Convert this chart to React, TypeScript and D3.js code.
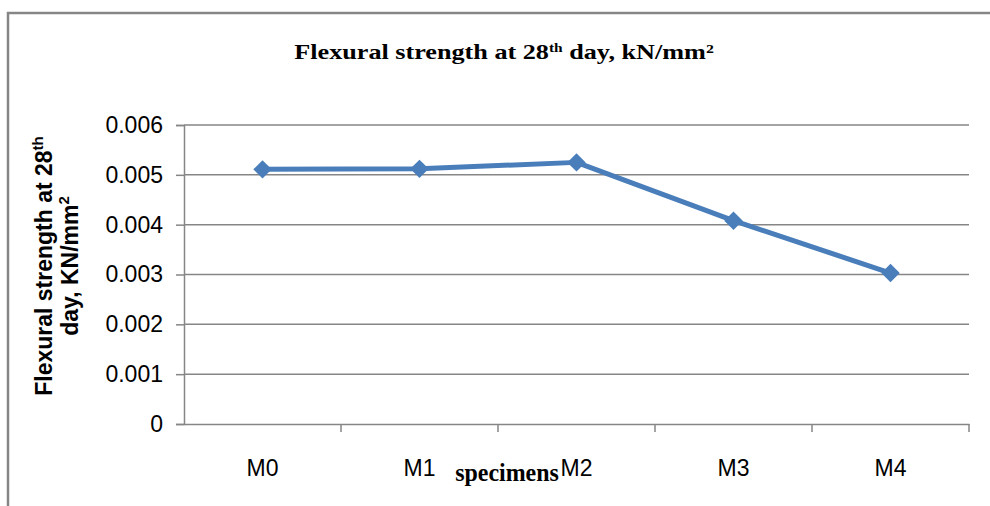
import React, { useEffect, useRef } from 'react';
import * as d3 from 'd3';

const specimens = ['M0', 'M1', 'M2', 'M3', 'M4'];
const strength = [0.00511, 0.00512, 0.00525, 0.00408, 0.00303];
const yTicks = [0, 0.001, 0.002, 0.003, 0.004, 0.005, 0.006];

export default function App() {
  const svgRef = useRef<SVGSVGElement>(null);

  useEffect(() => {
    if (!svgRef.current) return;
    const width = 990;
    const height = 506;
    const margin = { top: 125, right: 21, bottom: 82, left: 184 };

    const svg = d3.select(svgRef.current);
    svg.selectAll('*').remove();
    svg.attr('width', width).attr('height', height);

    // outer frame (only top and left visible)
    svg.append('path')
      .attr('d', `M8,${height} L8,13 L${width},13`)
      .attr('fill', 'none')
      .attr('stroke', '#868686')
      .attr('stroke-width', 2.5);

    const x = d3.scaleBand()
      .domain(specimens)
      .range([margin.left, width - margin.right]);

    const y = d3.scaleLinear()
      .domain([0, 0.006])
      .range([height - margin.bottom, margin.top]);

    const g = svg.append('g');

    // gridlines
    g.selectAll('.grid')
      .data(yTicks.filter(d => d > 0))
      .enter()
      .append('line')
      .attr('x1', margin.left)
      .attr('x2', width - margin.right)
      .attr('y1', d => y(d))
      .attr('y2', d => y(d))
      .attr('stroke', '#868686')
      .attr('stroke-width', 1.5);

    const sans = '"Liberation Sans Narrow", "Liberation Sans", Arial, sans-serif';

    // y axis
    const yAxis = g.append('g')
      .attr('transform', `translate(${margin.left},0)`)
      .call(d3.axisLeft(y).tickValues(yTicks).tickFormat(d => d === 0 ? '0' : d3.format('.3f')(d as number)).tickSize(8).tickPadding(13));
    yAxis.select('.domain').attr('stroke', '#868686').attr('stroke-width', 1.5);
    yAxis.selectAll('.tick line').attr('stroke', '#868686').attr('stroke-width', 1.5);
    yAxis.selectAll('.tick text')
      .attr('fill', '#000')
      .style('font-family', sans)
      .style('font-size', '23px');

    // x axis
    const xAxis = g.append('g')
      .attr('transform', `translate(0,${height - margin.bottom})`)
      .call(d3.axisBottom(x).tickSize(0).tickPadding(36));
    xAxis.select('.domain').attr('stroke', '#868686').attr('stroke-width', 1.5);
    xAxis.selectAll('.tick text')
      .attr('fill', '#000')
      .style('font-family', sans)
      .style('font-size', '23px');

    // category boundary ticks
    g.selectAll('.xtick')
      .data(specimens)
      .enter()
      .append('line')
      .attr('x1', d => (x(d) || 0) + x.bandwidth())
      .attr('x2', d => (x(d) || 0) + x.bandwidth())
      .attr('y1', height - margin.bottom)
      .attr('y2', height - margin.bottom + 8)
      .attr('stroke', '#868686')
      .attr('stroke-width', 1.5);

    // line
    const line = d3.line<number>()
      .x((_d, i) => (x(specimens[i]) || 0) + x.bandwidth() / 2)
      .y(d => y(d));

    g.append('path')
      .datum(strength)
      .attr('fill', 'none')
      .attr('stroke', '#4a7ebb')
      .attr('stroke-width', 5)
      .attr('stroke-linejoin', 'round')
      .attr('d', line);

    const diamond = d3.symbol().type(d3.symbolSquare).size(170);
    g.selectAll('.dot')
      .data(strength)
      .enter()
      .append('path')
      .attr('d', diamond)
      .attr('transform', (d, i) => `translate(${(x(specimens[i]) || 0) + x.bandwidth() / 2},${y(d)}) rotate(45)`)
      .attr('fill', '#4a7ebb');

    // title (stretched horizontally like the source)
    const title = svg.append('text')
      .attr('transform', 'translate(504,59) scale(1.19,1)')
      .attr('text-anchor', 'middle')
      .style('font-family', '"Liberation Serif", "Times New Roman", serif')
      .style('font-weight', 'bold')
      .style('font-size', '22px');
    title.append('tspan').text('Flexural strength at 28');
    title.append('tspan').attr('font-size', '13px').attr('dy', -7).text('th');
    title.append('tspan').attr('dy', 7).text(' day, kN/mm²');

    // x axis title (stretched vertically)
    svg.append('text')
      .attr('transform', 'translate(507,481) scale(1.26,1.35)')
      .attr('text-anchor', 'middle')
      .style('font-family', '"Liberation Serif", "Times New Roman", serif')
      .style('font-weight', 'bold')
      .style('font-size', '19px')
      .text('specimens');

    // y axis title
    const yt = svg.append('text')
      .attr('transform', 'translate(52,266) rotate(-90)')
      .attr('text-anchor', 'middle')
      .style('font-family', sans)
      .style('font-weight', 'bold')
      .style('font-size', '23px');
    yt.append('tspan').text('Flexural strength at 28');
    yt.append('tspan').attr('font-size', '15px').attr('dy', -9).text('th');
    const l2 = svg.append('text')
      .attr('transform', 'translate(78,266) rotate(-90)')
      .attr('text-anchor', 'middle')
      .style('font-family', sans)
      .style('font-weight', 'bold')
      .style('font-size', '23px');
    l2.append('tspan').text('day, KN/mm');
    l2.append('tspan').attr('font-size', '15px').attr('dy', -9).text('2');
  }, []);

  return <svg ref={svgRef} style={{ position: 'absolute', left: 0, top: 0 }}></svg>;
}
